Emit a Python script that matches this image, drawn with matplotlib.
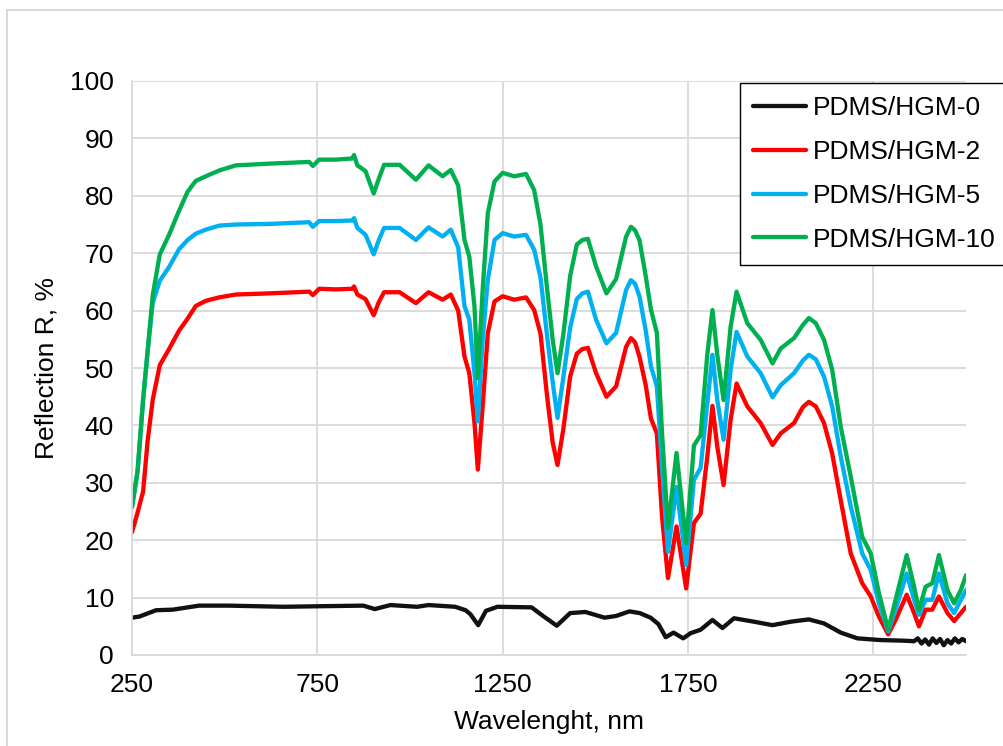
import matplotlib
matplotlib.use('Agg')
import matplotlib.pyplot as plt
from matplotlib.patches import Rectangle

plt.rcParams['font.family'] = ['Liberation Sans', 'DejaVu Sans']

# wavelength grid (nm) shared by the three filled samples
wavelength = [250, 265, 280, 292, 306, 325, 350, 377, 400, 422, 449, 485, 530, 620, 728, 738,
              755, 800, 844, 849, 858, 880, 902, 916, 930, 972, 1016, 1050, 1088, 1110, 1130,
              1147, 1160, 1174, 1183, 1196, 1210, 1228, 1250, 1281, 1313, 1335, 1352, 1370, 1385,
              1398, 1414, 1432, 1450, 1465, 1480, 1502, 1530, 1556, 1583, 1596, 1607, 1619, 1636,
              1650, 1666, 1680, 1696, 1719, 1745, 1766, 1784, 1802, 1816, 1829, 1846, 1865, 1881,
              1910, 1946, 1978, 2000, 2036, 2060, 2076, 2095, 2117, 2139, 2162, 2189, 2220, 2243,
              2265, 2290, 2310, 2340, 2360, 2373, 2391, 2409, 2427, 2450, 2468, 2486, 2500]

r_hgm2 = [21.4, 24.8, 28.5, 37.2, 44.5, 50.5, 53.3, 56.5, 58.6, 60.8, 61.7, 62.3, 62.8, 63.0, 63.3, 62.7,
          63.8, 63.7, 63.8, 64.2, 62.8, 62.0, 59.2, 61.5, 63.2, 63.2, 61.3, 63.2, 61.9, 62.8, 60.0,
          52.0, 49.1, 40.4, 32.3, 43.3, 56.1, 61.6, 62.5, 61.9, 62.3, 60.1, 56.0, 45.0, 37.0,
          33.1, 39.5, 48.5, 52.5, 53.3, 53.5, 49.1, 45.0, 46.8, 53.7, 55.2, 54.5, 52.0, 47.0,
          41.2, 38.6, 24.1, 13.4, 22.4, 11.6, 23.0, 24.6, 34.5, 43.4, 36.3, 29.6, 41.0, 47.3,
          43.3, 40.4, 36.6, 38.6, 40.4, 43.2, 44.1, 43.3, 40.4, 35.1, 27.0, 17.7, 12.5, 10.2,
          6.7, 3.6, 6.1, 10.5, 7.3, 5.0, 7.9, 7.9, 10.2, 7.3, 5.9, 7.3, 8.4]

r_hgm5 = [25.8, 32.0, 44.5, 52.8, 61.4, 65.2, 67.6, 70.7, 72.3, 73.4, 74.1, 74.8, 75.0, 75.1, 75.4, 74.6,
          75.6, 75.6, 75.7, 76.1, 74.4, 73.2, 69.8, 72.3, 74.4, 74.4, 72.3, 74.5, 72.9, 74.1, 71.0,
          60.8, 58.4, 49.1, 40.7, 54.9, 65.4, 72.3, 73.5, 72.9, 73.2, 70.6, 65.8, 55.5, 47.5,
          41.3, 48.5, 57.0, 62.0, 63.0, 63.3, 58.4, 54.3, 56.1, 63.6, 65.3, 64.7, 62.5, 56.5,
          50.3, 46.8, 32.8, 18.0, 29.3, 15.7, 30.5, 32.6, 43.8, 52.3, 44.4, 37.5, 49.7, 56.3,
          52.0, 49.1, 44.9, 47.0, 49.1, 51.3, 52.3, 51.5, 48.5, 43.3, 34.6, 25.9, 17.7, 14.8,
          9.0, 4.1, 7.9, 14.2, 9.6, 7.0, 9.6, 9.6, 14.2, 9.0, 7.3, 9.6, 11.3]

r_hgm10 = [25.8, 32.0, 44.5, 52.8, 62.7, 69.8, 73.2, 77.4, 80.7, 82.6, 83.4, 84.4, 85.3, 85.6, 85.9, 85.2,
           86.3, 86.3, 86.5, 87.1, 85.3, 84.3, 80.4, 83.0, 85.4, 85.4, 82.8, 85.3, 83.4, 84.5, 81.8,
           72.3, 69.4, 60.7, 48.2, 63.6, 77.0, 82.5, 84.0, 83.4, 83.8, 81.0, 75.0, 63.7, 54.9,
           49.1, 56.0, 66.0, 71.5, 72.3, 72.5, 67.7, 63.0, 65.5, 72.9, 74.6, 74.0, 72.3, 66.0,
           60.2, 56.1, 38.6, 22.1, 35.2, 19.5, 36.5, 38.3, 52.3, 60.1, 52.3, 44.4, 57.2, 63.3,
           57.8, 54.9, 50.8, 53.4, 55.2, 57.5, 58.7, 57.8, 54.9, 49.7, 39.8, 31.1, 20.6, 17.7,
           10.8, 4.4, 9.6, 17.4, 11.9, 7.8, 11.9, 12.5, 17.4, 11.3, 9.0, 11.3, 13.9]

# pure PDMS sample, read on its own grid
wavelength_0 = [250, 270, 315, 360, 431, 512, 658, 760, 874, 905, 947, 1019, 1050, 1122, 1150, 1163,
                1184, 1205, 1236, 1328, 1359, 1396, 1432, 1473, 1525, 1556, 1592, 1620, 1649, 1670,
                1690, 1711, 1737, 1757, 1784, 1816, 1843, 1874, 1928, 1978, 2027, 2076, 2117, 2162,
                2207, 2270, 2330, 2360, 2370, 2380, 2390, 2400, 2410, 2420, 2430, 2440, 2450, 2460,
                2470, 2480, 2490, 2500]
r_hgm0 = [6.5, 6.7, 7.8, 7.9, 8.6, 8.6, 8.4, 8.5, 8.6, 8.0, 8.7, 8.4, 8.7, 8.4, 7.8, 7.1,
          5.2, 7.7, 8.4, 8.3, 6.8, 5.1, 7.3, 7.5, 6.5, 6.8, 7.6, 7.3, 6.5, 5.4,
          3.1, 3.9, 2.9, 3.8, 4.4, 6.1, 4.7, 6.4, 5.8, 5.2, 5.8, 6.2, 5.5, 3.9,
          2.9, 2.6, 2.5, 2.4, 2.9, 2.0, 2.7, 1.8, 2.9, 2.1, 2.8, 1.7, 2.6, 2.0,
          2.9, 2.2, 2.8, 2.4]

labels = ['PDMS/HGM-0', 'PDMS/HGM-2', 'PDMS/HGM-5', 'PDMS/HGM-10']
colors = ['#111111', '#ff0000', '#00b0f0', '#00b050']
x_ticks = [250, 750, 1250, 1750, 2250]
y_ticks = list(range(0, 101, 10))

W, H = 1004, 746
fig = plt.figure(figsize=(W / 100, H / 100), dpi=100)
ax = fig.add_axes([132 / W, 1 - 655 / H, (966 - 132) / W, (655 - 81) / H])

style = dict(lw=3.1, solid_joinstyle='round', solid_capstyle='round')
ax.plot(wavelength_0, r_hgm0, color=colors[0], label=labels[0], **style)
ax.plot(wavelength, r_hgm2, color=colors[1], label=labels[1], **style)
ax.plot(wavelength, r_hgm5, color=colors[2], label=labels[2], **style)
ax.plot(wavelength, r_hgm10, color=colors[3], label=labels[3], **style)

ax.set_xlim(250, 2500)
ax.set_ylim(0, 100)
ax.set_xticks(x_ticks)
ax.set_yticks(y_ticks)
ax.tick_params(length=0, labelsize=19, pad=13)
ax.grid(True, color='#d9d9d9', lw=1.3)
ax.set_axisbelow(True)
for side in ['top', 'right']:
    ax.spines[side].set_visible(False)
for side in ['left', 'bottom']:
    ax.spines[side].set_color('#d9d9d9')
    ax.spines[side].set_linewidth(1.3)

ax.set_xlabel('Wavelenght, nm', fontsize=19, labelpad=9)
ax.set_ylabel('Reflection R, %', fontsize=19, labelpad=8)

leg = fig.legend(loc='upper left', bbox_to_anchor=(740 / W, 1 - 83 / H), bbox_transform=fig.transFigure,
                 fontsize=19, frameon=True, fancybox=False, edgecolor='black', framealpha=1,
                 handlelength=2.0, handletextpad=0.25, borderpad=0.5, labelspacing=0.75,
                 borderaxespad=0)
leg.get_frame().set_linewidth(1.0)

# light outer chart frame
fig.patches.append(Rectangle((7 / W, -0.1), 2, 1 - 10 / H + 0.1, transform=fig.transFigure,
                             fill=False, edgecolor='#d9d9d9', lw=1.5))

fig.savefig('out.png', dpi=100)
